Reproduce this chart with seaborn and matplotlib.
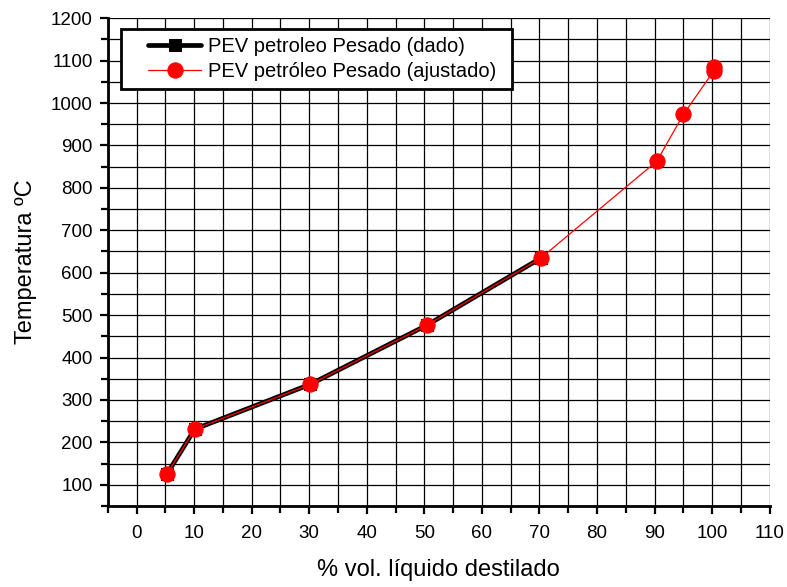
import matplotlib
matplotlib.use("Agg")
import matplotlib.pyplot as plt
from matplotlib.ticker import MultipleLocator
from matplotlib.lines import Line2D
from matplotlib.legend_handler import HandlerLine2D
import seaborn as sns
import pandas as pd

# Distillation curve (PEV) of a heavy crude oil
x_dado = [5.3, 10.1, 30.2, 50.4, 70.2]
t_dado = [126, 231, 337, 476, 634]

x_ajust = [5.3, 10.1, 30.2, 50.4, 70.2, 90.4, 95.0, 100.3, 100.3]
t_ajust = [126, 231, 337, 476, 634, 863, 973, 1076, 1086]

label_dado = "PEV petroleo Pesado (dado)"
label_ajust = "PEV petróleo Pesado (ajustado)"

sns.set_style("white")
plt.rcParams["font.family"] = ["Liberation Sans", "DejaVu Sans"]
plt.rcParams["text.color"] = "black"
plt.rcParams["axes.labelcolor"] = "black"
plt.rcParams["xtick.color"] = "black"
plt.rcParams["ytick.color"] = "black"

fig = plt.figure(figsize=(7.87, 5.87), dpi=100)
ax = fig.add_axes([0.137, 0.138, 0.841, 0.831])

df_dado = pd.DataFrame({"x": x_dado, "t": t_dado})
df_ajust = pd.DataFrame({"x": x_ajust, "t": t_ajust})

sns.lineplot(data=df_dado, x="x", y="t", ax=ax, color="black", lw=3.4,
             marker="s", markersize=9, markeredgecolor="black",
             estimator=None, sort=False, label=label_dado)
sns.lineplot(data=df_ajust, x="x", y="t", ax=ax, color="red", lw=0.9,
             marker="o", markersize=11, markeredgecolor="red",
             estimator=None, sort=False, label=label_ajust)

ax.set_xlim(-5, 110)
ax.set_ylim(50, 1200)
ax.xaxis.set_major_locator(MultipleLocator(10))
ax.xaxis.set_minor_locator(MultipleLocator(5))
ax.yaxis.set_major_locator(MultipleLocator(100))
ax.yaxis.set_minor_locator(MultipleLocator(50))

ax.grid(True, which="both", color="black", lw=0.9)
ax.set_axisbelow(True)

for side in ("top", "right"):
    ax.spines[side].set_visible(False)
for side in ("left", "bottom"):
    ax.spines[side].set_linewidth(2)
    ax.spines[side].set_color("black")

ax.tick_params(axis="both", which="major", direction="out", length=6,
               width=1.6, color="black", labelsize=13.5, labelcolor="black")
ax.tick_params(axis="x", which="major", pad=8)
ax.tick_params(axis="y", which="major", pad=5)
ax.tick_params(axis="both", which="minor", direction="out", length=5,
               width=1.6, color="black")
ax.tick_params(left=True, bottom=True, which="both")

ax.set_xticks(range(0, 111, 10))
ax.set_xticklabels([str(v) for v in range(0, 111, 10)])
ax.set_yticks(range(100, 1201, 100))
ax.set_yticklabels([str(v) for v in range(100, 1201, 100)])

ax.set_xlabel("% vol. líquido destilado", fontsize=17, labelpad=12)
ax.set_ylabel("Temperatura ºC", fontsize=17, labelpad=10)

leg = ax.legend(loc="upper left", bbox_to_anchor=(0.0196, 0.0, 0.591, 0.978),
                mode="expand", borderaxespad=0, fontsize=14.5, frameon=True,
                fancybox=False, handlelength=3.6, handletextpad=0.35,
                borderpad=0.4, labelspacing=0.3, framealpha=1,
                handler_map={Line2D: HandlerLine2D(xpad=0.95)})
leg.get_frame().set_edgecolor("black")
leg.get_frame().set_linewidth(2)
leg.get_frame().set_facecolor("white")

fig.savefig("out.png", dpi=100)
